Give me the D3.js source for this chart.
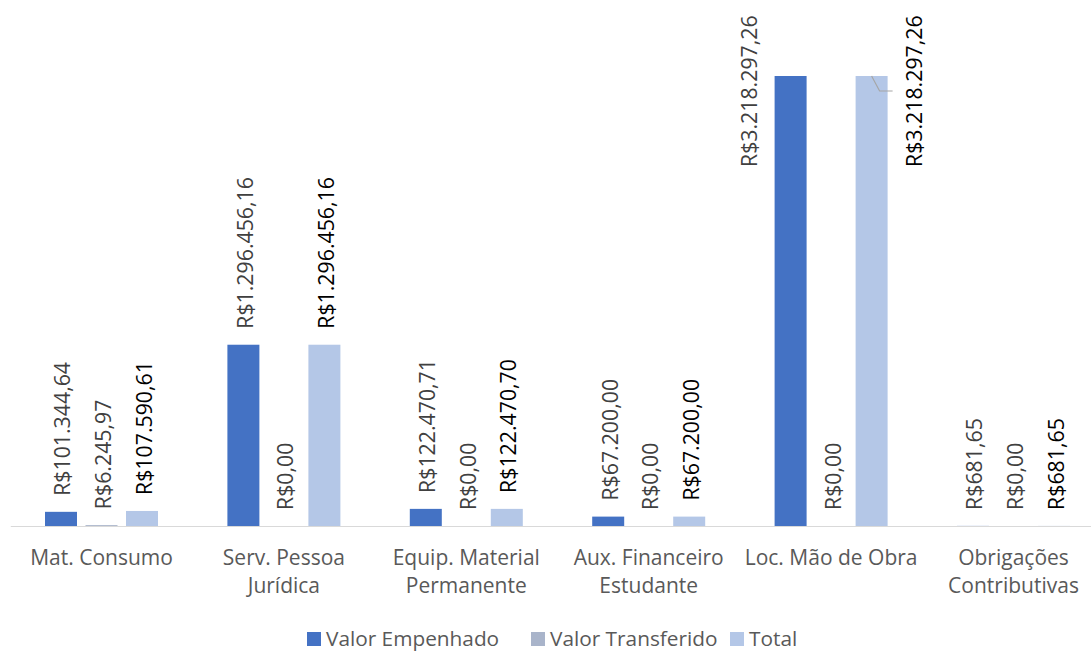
<!DOCTYPE html>
<html><head><meta charset="utf-8">
<script src="https://cdn.jsdelivr.net/npm/d3@7"></script>
<style>
html,body{margin:0;padding:0;background:#fff;}
svg{display:block;font-family:"Open Sans",sans-serif;}
</style></head>
<body>
<svg id="chart" width="1091" height="651"></svg>
<script>
const categories = ["Mat. Consumo", "Serv. Pessoa\nJurídica", "Equip. Material\nPermanente", "Aux. Financeiro\nEstudante", "Loc. Mão de Obra", "Obrigações\nContributivas"];
const seriesNames = ["Valor Empenhado", "Valor Transferido", "Total"];
const valorEmpenhado = [101344.64, 1296456.16, 122470.71, 67200.00, 3218297.26, 681.65];
const valorTransferido = [6245.97, 0, 0, 0, 0, 0];
const total = [107590.61, 1296456.16, 122470.70, 67200.00, 3218297.26, 681.65];
const colors = ["#4472C4", "#A9B4CA", "#B4C7E7"];
const labelColors = ["#404040", "#404040", "#000000"];

const seriesValues = [valorEmpenhado, valorTransferido, total];
const svg = d3.select("#chart");

const baseY = 526;
const x0 = d3.scaleBand().domain(categories).range([10.3, 1104.7]).padding(0);
const bw0 = x0.bandwidth();
const x1 = d3.scaleBand().domain(seriesNames).range([bw0/2 - 56.5, bw0/2 + 56.5]).paddingInner(0.21).paddingOuter(0);
const y = d3.scaleLinear().domain([0, 3500000]).range([baseY, baseY - 3500000 * 450 / 3218297.26]);

const fmt = v => "R$" + d3.format(",.2f")(v).replace(/,/g, "#").replace(".", ",").replace(/#/g, ".");

// bars
seriesNames.forEach((s, si) => {
  svg.append("g").selectAll("rect").data(categories).join("rect")
    .attr("x", c => x0(c) + x1(s))
    .attr("width", x1.bandwidth())
    .attr("y", (c, i) => y(seriesValues[si][i]))
    .attr("height", (c, i) => baseY - y(seriesValues[si][i]))
    .attr("fill", colors[si]);
});

// axis
const axis = svg.append("g").attr("transform", `translate(0,${baseY})`)
  .call(d3.axisBottom(x0).tickSize(0).tickPadding(0));
axis.select(".domain").attr("stroke", "#D9D9D9").attr("stroke-width", 1.2);
axis.selectAll(".tick text").each(function(d) {
  const t = d3.select(this);
  t.text(null).attr("y", 0).attr("dy", null)
    .attr("fill", "#595959").attr("font-size", "21px")
    .attr("font-family", "'Open Sans',sans-serif");
  d.split("\n").forEach((line, li) => {
    t.append("tspan").attr("x", 0).attr("y", 39 + li * 28).text(line);
  });
});

// data labels
seriesNames.forEach((s, si) => {
  categories.forEach((c, i) => {
    const v = seriesValues[si][i];
    const cx = x0(c) + x1(s) + x1.bandwidth() / 2;
    let lx = cx + 1, ly = y(v) - 16;
    // labels moved beside the tallest bars
    if (v === d3.max(valorEmpenhado) && si === 0) { lx = cx - 42; ly = 167; }
    if (v === d3.max(total) && si === 2) {
      lx = cx + 42; ly = 167;
      const top = y(v);
      svg.append("polyline")
        .attr("points", `${cx},${top} ${cx + 8},${top + 15} ${cx + 21},${top + 15}`)
        .attr("fill", "none").attr("stroke", "#A6A6A6").attr("stroke-width", 1.2);
    }
    svg.append("text")
      .attr("transform", `translate(${lx},${ly}) rotate(-90)`)
      .attr("text-anchor", "start")
      .attr("dominant-baseline", "central")
      .attr("font-size", "21.3px")
      .attr("fill", labelColors[si])
      .text(fmt(v));
  });
});

// legend
const legendX = [307, 531, 730];
const lg = svg.append("g");
seriesNames.forEach((s, si) => {
  lg.append("rect").attr("x", legendX[si]).attr("y", 632).attr("width", 14).attr("height", 14).attr("fill", colors[si]);
  lg.append("text").attr("x", legendX[si] + 19).attr("y", 645.5)
    .attr("font-size", "20.8px").attr("fill", "#595959").text(s);
});
</script>
</body></html>
